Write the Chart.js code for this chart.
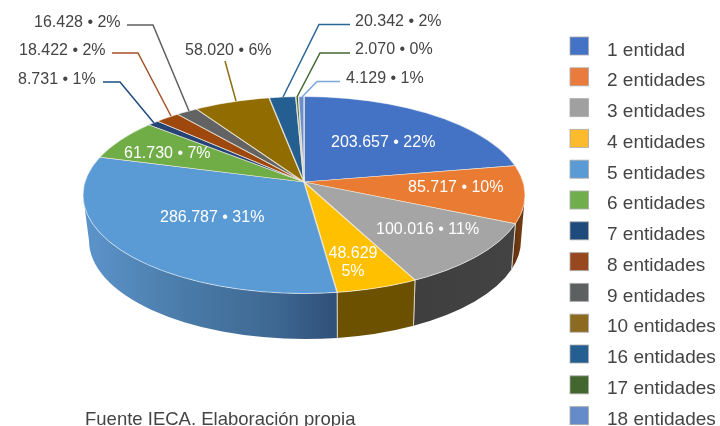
<!DOCTYPE html>
<html lang="es">
<head>
<meta charset="utf-8">
<title>Entidades</title>
<script src="https://cdn.jsdelivr.net/npm/chart.js@4/dist/chart.umd.min.js"></script>
<style>
html,body{margin:0;padding:0;background:#fff;overflow:hidden}
canvas{display:block}
</style>
</head>
<body>
<canvas id="c" width="720" height="426"></canvas>
<script>
// ---- data ----
const categories = ['1 entidad','2 entidades','3 entidades','4 entidades','5 entidades','6 entidades','7 entidades','8 entidades','9 entidades','10 entidades','16 entidades','17 entidades','18 entidades'];
const values = [203657,85717,100016,48629,286787,61730,8731,18422,16428,58020,20342,2070,4129];
const valueLabels = ['203.657','85.717','100.016','48.629','286.787','61.730','8.731','18.422','16.428','58.020','20.342','2.070','4.129'];
const percents = [22,10,11,5,31,7,1,2,2,6,2,0,1];
const source = 'Fuente IECA. Elaboración propia';

// ---- styles ----
const colors = ['#4472c4','#ea7b32','#a5a5a5','#ffc000','#5b9bd5','#70ad47','#264478','#9e480e','#636363','#916c00','#255e91','#43682b','#698ed0'];
const legendColors = ['#4472c4','#e97c3c','#a0a0a0','#fbbb2d','#5b9bd5','#70ad4c','#1f4a7c','#98481f','#5c6060','#8c6a20','#255e91','#43662f','#658cc8'];
const wallStops = {
  1:[[0,'#5e3010'],[1,'#7a3e12']],
  2:[[0,'#3f3f3f'],[1,'#434343']],
  3:[[0,'#6c5200'],[1,'#6a5000']],
  4:[[0,'#5c94cb'],[0.4,'#4a7ba8'],[0.75,'#3e6892'],[1,'#2f4f78']]
};
const TEXT = '#444444';
const FONT = '"Liberation Sans", Arial, sans-serif';

// ---- layout ----
const PIVOT = {x:304, y:182};
const TOP = {x:304, y:195, rx:221, ry:98.5};
const BOT = {x:305, y:240.5, rx:216, ry:98.5};
const K = TOP.ry / TOP.rx;
const outerLabels = {
  8:{x:34,y:23,line:[[127,25],[153,25],[189,111]],stroke:'#5f5f5f'},
  7:{x:19,y:51,line:[[112,53],[138,53],[171,116]],stroke:'#a5522a'},
  6:{x:18,y:80,line:[[103,82],[120,82],[154,123]],stroke:'#1f4b80'},
  9:{x:185,y:51,line:[[225,61],[236,101]],stroke:'#8f6d10'},
  10:{x:355,y:22,line:[[350,24.5],[319,24.5],[283,97]],stroke:'#2a6496'},
  11:{x:355,y:50,line:[[350,53],[320,53],[297,97]],stroke:'#426a2e'},
  12:{x:346,y:79,line:[[340,81.5],[317,81.5],[302,97]],stroke:'#7ea6dc'}
};
const innerLabels = {
  0:{x:331,y:143}, 1:{x:408,y:188}, 2:{x:376,y:230}, 4:{x:160,y:218}, 5:{x:124,y:154}
};

function ellipseParam(theta){
  const d = (TOP.y - PIVOT.y) / TOP.ry;
  const c = Math.cos(theta), sn = Math.sin(theta);
  const s = sn*d + Math.sqrt(sn*d*sn*d + 1 - d*d);
  return Math.atan2(s*sn - d, s*c);
}
function ept(e,a){ return [e.x + e.rx*Math.cos(a), e.y + e.ry*Math.sin(a)]; }

const pie3d = {
  id:'pie3d',
  beforeDatasetsDraw(chart){
    const ctx = chart.ctx;
    const arcs = chart.getDatasetMeta(0).data;
    // side wall, from the angles the library computed
    arcs.forEach((arc,i)=>{
      if(!wallStops[i]) return;
      let a1 = ellipseParam(arc.startAngle), a2 = ellipseParam(arc.endAngle);
      if(a1 < -Math.PI/2) a1 += 2*Math.PI;
      if(a2 < -Math.PI/2) a2 += 2*Math.PI;
      a1 = Math.max(a1,0); a2 = Math.min(a2,Math.PI);
      if(a2 <= a1) return;
      const xs = [ept(TOP,a1)[0],ept(TOP,a2)[0],ept(BOT,a1)[0],ept(BOT,a2)[0]];
      const g = ctx.createLinearGradient(Math.min(...xs),0,Math.max(...xs),0);
      wallStops[i].slice().forEach(s=>g.addColorStop(s[0],s[1]));
      ctx.beginPath();
      ctx.ellipse(TOP.x,TOP.y,TOP.rx,TOP.ry,0,a1,a2);
      const q2 = ept(BOT,a2);
      ctx.lineTo(q2[0],q2[1]);
      ctx.ellipse(BOT.x,BOT.y,BOT.rx,BOT.ry,0,a2,a1,true);
      ctx.closePath();
      ctx.fillStyle = g;
      ctx.fill();
      // light seams between wall pieces
      ctx.strokeStyle = 'rgba(235,230,215,.75)';
      ctx.lineWidth = 1;
      [a1,a2].forEach(a=>{
        if(a===0 || a===Math.PI) return;
        const p = ept(TOP,a), q = ept(BOT,a);
        ctx.beginPath(); ctx.moveTo(p[0],p[1]); ctx.lineTo(q[0],q[1]); ctx.stroke();
      });
    });
    // top surface: the library's arcs, flattened and cut by the ellipse
    const c = arcs[0];
    ctx.save();
    ctx.beginPath();
    ctx.ellipse(TOP.x,TOP.y,TOP.rx,TOP.ry,0,0,Math.PI*2);
    ctx.clip();
    ctx.translate(PIVOT.x,PIVOT.y);
    ctx.scale(1,K);
    ctx.translate(-c.x,-c.y);
  },
  afterDatasetsDraw(chart){
    const ctx = chart.ctx;
    ctx.restore();
    ctx.beginPath();
    ctx.ellipse(TOP.x,TOP.y,TOP.rx,TOP.ry,0,0,Math.PI*2);
    ctx.strokeStyle = 'rgba(255,255,255,.55)';
    ctx.lineWidth = 1;
    ctx.stroke();
  },
  afterDraw(chart){
    const ctx = chart.ctx;
    ctx.save();
    ctx.textBaseline = 'middle';
    ctx.textAlign = 'left';
    // leader lines and outer labels
    ctx.font = '16px '+FONT;
    Object.keys(outerLabels).forEach(k=>{
      const l = outerLabels[k];
      ctx.beginPath();
      l.line.forEach((p,n)=> n ? ctx.lineTo(p[0],p[1]) : ctx.moveTo(p[0],p[1]));
      ctx.strokeStyle = l.stroke;
      ctx.lineWidth = 1.5;
      ctx.stroke();
      ctx.fillStyle = TEXT;
      ctx.fillText(valueLabels[k]+' • '+percents[k]+'%', l.x, l.y);
    });
    // inner labels
    ctx.fillStyle = '#ffffff';
    Object.keys(innerLabels).forEach(k=>{
      const l = innerLabels[k];
      ctx.fillText(valueLabels[k]+' • '+percents[k]+'%', l.x, l.y);
    });
    ctx.textAlign = 'center';
    ctx.fillText(valueLabels[3], 353, 254);
    ctx.fillText(percents[3]+'%', 353, 272);
    // legend
    ctx.textAlign = 'left';
    ctx.font = '19px '+FONT;
    categories.forEach((name,i)=>{
      const y = 37 + i*30.8;
      ctx.fillStyle = legendColors[i];
      ctx.fillRect(570,y,18.5,18);
      ctx.strokeStyle = 'rgba(170,170,170,.8)';
      ctx.lineWidth = 1;
      ctx.strokeRect(570,y,18.5,18);
      ctx.fillStyle = TEXT;
      ctx.fillText(name, 607, 50.5 + i*30.75);
    });
    // source
    ctx.font = '18.5px '+FONT;
    ctx.fillText(source, 85, 419.5);
    ctx.restore();
  }
};

new Chart(document.getElementById('c'),{
  type:'pie',
  data:{
    labels:categories,
    datasets:[{
      data:values,
      backgroundColor:colors,
      borderColor:'rgba(240,236,222,.8)',
      borderWidth:1.4,
      radius:270,
      clip:false
    }]
  },
  plugins:[pie3d],
  options:{
    responsive:false,
    animation:false,
    layout:{padding:{left:0,top:0,right:112,bottom:62}},
    plugins:{legend:{display:false},tooltip:{enabled:false}}
  }
});
</script>
</body>
</html>
